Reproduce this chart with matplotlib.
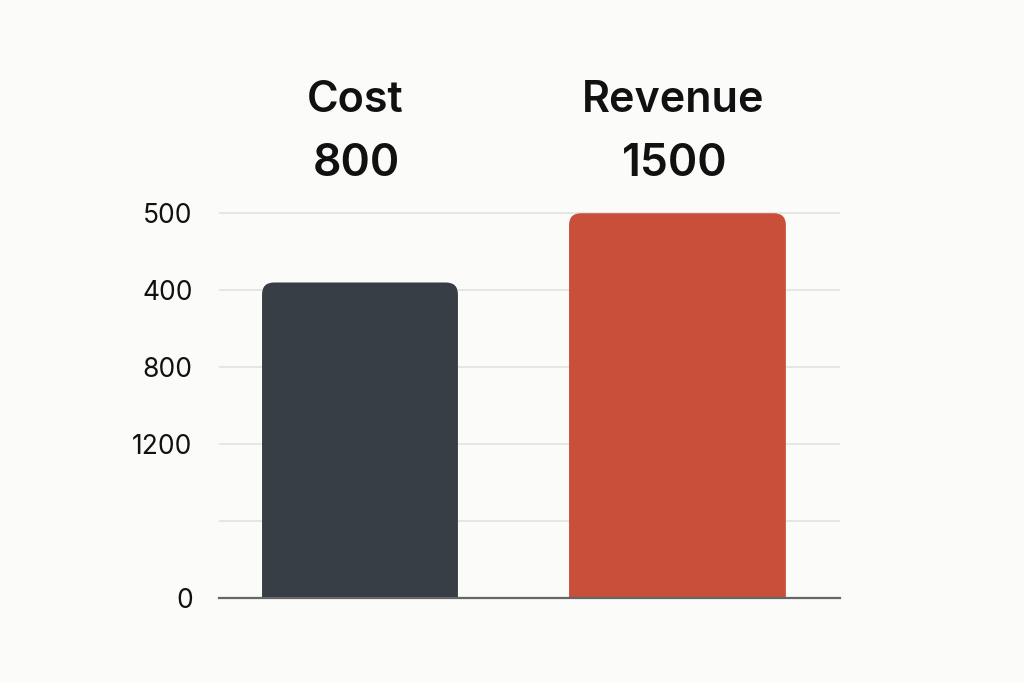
import matplotlib
matplotlib.use("Agg")
import matplotlib.pyplot as plt
from matplotlib.patches import FancyBboxPatch

# data
categories = ["Cost", "Revenue"]
bar_heights = [1230, 1500]          # drawn heights on the axis scale
value_labels = ["800", "1500"]      # numbers printed above the bars
tick_values = [0, 300, 600, 900, 1200, 1500]
tick_labels = ["0", "", "1200", "800", "400", "500"]

colors = ["#363d43", "#c94f3a"]
widths = [0.617, 0.683]
bg = "#fbfbf9"

plt.rcParams['font.family'] = ['Inter', 'DejaVu Sans']

fig = plt.figure(figsize=(10.24, 6.83), dpi=100, facecolor=bg)
ax = fig.add_axes([0.2139, 0.1245, 0.6064, 0.5708], facecolor=bg)

xpos = list(range(len(categories)))
bars = ax.bar(xpos, bar_heights, width=widths, color=colors, zorder=3)

ax.set_xlim(-0.444, 1.512)
ax.set_ylim(0, 1520)
fig.canvas.draw()

# swap plain rectangles for ones with rounded top corners
r_px = 12
p0 = ax.transData.transform((0, 0))
p1 = ax.transData.transform((1, 1))
x_per_px = 1 / (p1[0] - p0[0])
y_per_px = 1 / (p1[1] - p0[1])
for b in bars:
    b.set_visible(False)
    r = r_px * x_per_px
    extra = r_px * y_per_px
    patch = FancyBboxPatch((b.get_x(), -extra * 2), b.get_width(),
                           b.get_height() + extra * 2,
                           boxstyle=f"round,pad=0,rounding_size={r}",
                           mutation_aspect=y_per_px / x_per_px,
                           facecolor=b.get_facecolor(), edgecolor="none",
                           zorder=3, clip_on=True)
    ax.add_patch(patch)

ax.set_yticks(tick_values)
ax.set_yticklabels(tick_labels)
ax.set_xticks([])
ax.tick_params(axis='y', length=0, pad=19, labelsize=19, labelcolor="#111111")
ax.grid(axis='y', color="#e2e2e2", linewidth=1.2, zorder=0)
for s in ["top", "right", "left"]:
    ax.spines[s].set_visible(False)
ax.spines["bottom"].set_color("#666666")
ax.spines["bottom"].set_linewidth(1.6)
ax.spines["bottom"].set_zorder(4)

for x, name, lab in zip(xpos, categories, value_labels):
    ax.text(x - 0.015, 1940, name, ha='center', va='center', fontsize=31,
            fontweight='semibold', color="#111111", clip_on=False)
    ax.text(x - 0.01, 1691, lab, ha='center', va='center', fontsize=32,
            fontweight='semibold', color="#111111", clip_on=False)

fig.savefig("out.png", dpi=100, facecolor=bg)
